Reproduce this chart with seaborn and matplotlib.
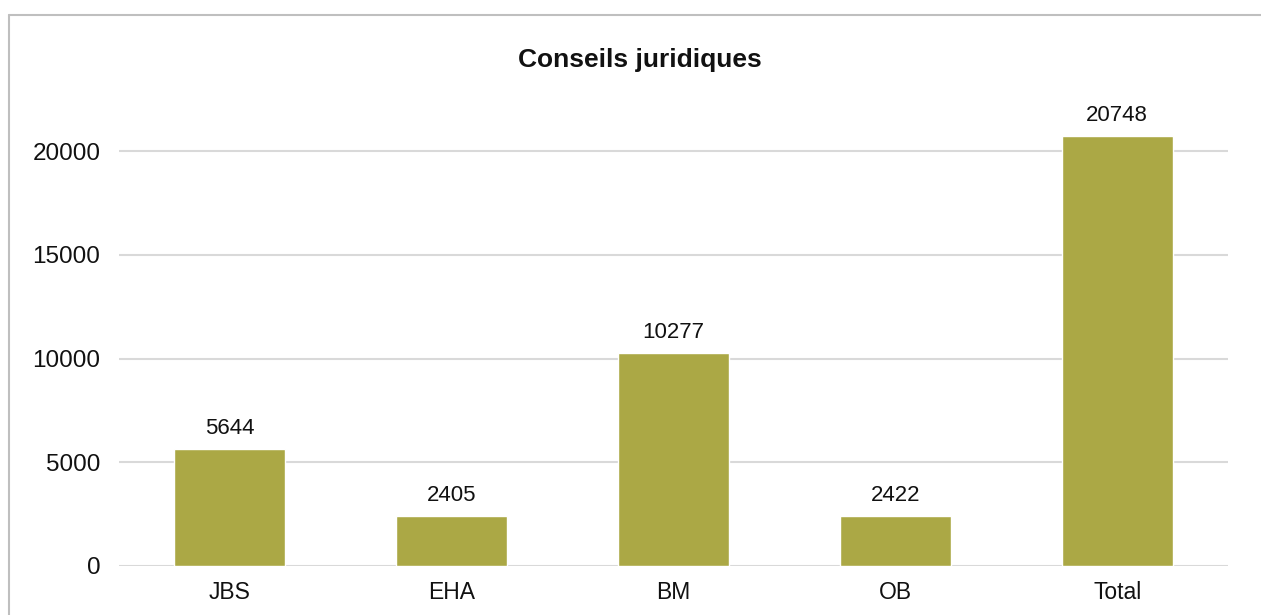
import seaborn as sns
import matplotlib.pyplot as plt
from matplotlib.lines import Line2D

categories = ['JBS', 'EHA', 'BM', 'OB', 'Total']
conseils = [5644, 2405, 10277, 2422, 20748]

sns.set_theme(style='white')
plt.rcParams['font.family'] = ['Liberation Sans', 'DejaVu Sans']

fig = plt.figure(figsize=(12.61, 6.15), dpi=100)
ax = fig.add_axes([0.0944, 0.0797, 0.8795, 0.742])

sns.barplot(x=categories, y=conseils, color='#ABA845', width=0.5,
            saturation=1, ax=ax, zorder=3)

ax.set_ylim(0, 22000)
ax.set_yticks([0, 5000, 10000, 15000, 20000])
ax.yaxis.grid(True, color='#D9D9D9', linewidth=1.5, zorder=0)
ax.set_axisbelow(True)
for s in ax.spines.values():
    s.set_visible(False)
ax.tick_params(axis='y', labelsize=17.5, pad=13.5, length=0, labelcolor='#111111')
ax.tick_params(axis='x', labelsize=16.5, pad=11, length=0, labelcolor='#111111')
ax.set_xlabel('')
ax.set_ylabel('')

ax.bar_label(ax.containers[0], labels=[str(v) for v in conseils],
             fontsize=16, padding=7, color='#111111')

fig.text(0.5076, 0.902, 'Conseils juridiques', ha='center', va='center',
         fontsize=19, fontweight='bold', color='#111111')

# outer chart frame (cropped at right and bottom)
fig.add_artist(Line2D([0.0075, 1.0], [0.9756, 0.9756], transform=fig.transFigure,
                      color='#BFBFBF', linewidth=1.5))
fig.add_artist(Line2D([0.0075, 0.0075], [0.0, 0.9756], transform=fig.transFigure,
                      color='#BFBFBF', linewidth=1.5))

fig.savefig('out.png', dpi=100, facecolor='white')
plt.close()
